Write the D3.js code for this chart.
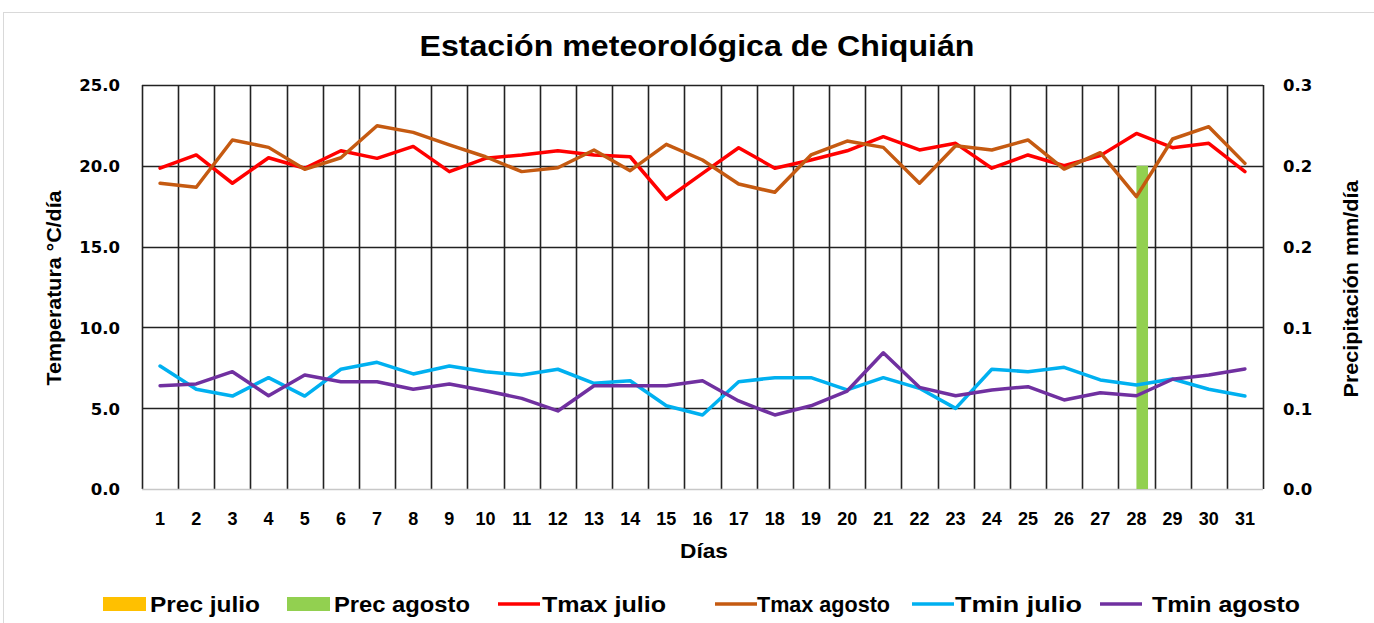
<!DOCTYPE html>
<html><head><meta charset="utf-8">
<script src="https://cdn.jsdelivr.net/npm/d3@7"></script>
<style>
html,body{margin:0;padding:0;background:#fff;}
svg{display:block;}
.lbl{font-family:"Liberation Sans",Arial,sans-serif;font-weight:bold;fill:#000;}
.tick{font-family:"DejaVu Sans",Verdana,sans-serif;font-weight:bold;fill:#000;}
</style></head>
<body>
<svg id="c" width="1374" height="623"></svg>
<script>
const days = d3.range(1, 32);
const tmaxJulio = [19.85,20.67,18.92,20.5,19.85,20.93,20.46,21.2,19.64,20.46,20.67,20.93,20.67,20.56,17.93,19.53,21.12,19.85,20.36,20.93,21.8,20.98,21.39,19.85,20.67,20.0,20.63,22.0,21.12,21.39,19.64];
const tmaxAgosto = [18.92,18.67,21.6,21.14,19.78,20.5,22.48,22.07,21.29,20.56,19.64,19.88,20.98,19.7,21.33,20.36,18.87,18.36,20.67,21.53,21.14,18.92,21.24,20.98,21.6,19.8,20.81,18.09,21.66,22.42,20.15];
const tminJulio = [7.61,6.17,5.75,6.89,5.75,7.41,7.84,7.12,7.61,7.26,7.05,7.41,6.54,6.7,5.15,4.58,6.64,6.89,6.89,6.13,6.89,6.23,4.99,7.41,7.26,7.53,6.75,6.44,6.81,6.17,5.75];
const tminAgosto = [6.39,6.5,7.26,5.77,7.05,6.64,6.64,6.17,6.5,6.08,5.61,4.83,6.39,6.39,6.39,6.7,5.45,4.58,5.15,6.06,8.43,6.29,5.77,6.13,6.33,5.51,5.96,5.77,6.79,7.05,7.43];
const precJulio = [0,0,0,0,0,0,0,0,0,0,0,0,0,0,0,0,0,0,0,0,0,0,0,0,0,0,0,0,0,0,0];
const precAgosto = [0,0,0,0,0,0,0,0,0,0,0,0,0,0,0,0,0,0,0,0,0,0,0,0,0,0,0,0.2,0,0,0];
const tempTicks = [0,5,10,15,20,25];
const precTicks = [0,0.05,0.1,0.15,0.2,0.25];
const title = "Estación meteorológica de Chiquián";
const yTitle = "Temperatura °C/día";
const y2Title = "Precipitación mm/día";
const xTitle = "Días";
const barSeries = [
  {name:"Prec julio", values:precJulio, color:"#FFC000"},
  {name:"Prec agosto", values:precAgosto, color:"#92D050"}
];
const lineSeries = [
  {name:"Tmax julio", values:tmaxJulio, color:"#FF0000"},
  {name:"Tmax agosto", values:tmaxAgosto, color:"#C55A11"},
  {name:"Tmin julio", values:tminJulio, color:"#00B0F0"},
  {name:"Tmin agosto", values:tminAgosto, color:"#7030A0"}
];

const svg = d3.select("#c");
const L = 142, R = 1263, T = 85, B = 489;

svg.append("rect").attr("x",3.5).attr("y",12.5).attr("width",1400).attr("height",700)
  .attr("fill","none").attr("stroke","#d9d9d9").attr("stroke-width",1);

const x = d3.scaleBand().domain(days).range([L,R]).padding(0);
const y = d3.scaleLinear().domain([0,25]).range([B,T]);
const y2 = d3.scaleLinear().domain([0,0.25]).range([B,T]);
const bw = x.bandwidth();
const fmt1 = d => (Math.round(d*10 + 1e-9)/10).toFixed(1);

svg.append("g").selectAll("line").data(tempTicks.filter(t=>t>0)).join("line")
  .attr("x1",L).attr("x2",R).attr("y1",d=>Math.round(y(d))+0.5).attr("y2",d=>Math.round(y(d))+0.5)
  .attr("stroke","#222").attr("stroke-width",1.6);
const bounds = days.map(d=>x(d)).concat([R]);
svg.append("g").selectAll("line").data(bounds).join("line")
  .attr("x1",d=>Math.round(d)+0.5).attr("x2",d=>Math.round(d)+0.5).attr("y1",T).attr("y2",B)
  .attr("stroke","#222").attr("stroke-width",1.6);
svg.append("line").attr("x1",L).attr("x2",R).attr("y1",B+0.5).attr("y2",B+0.5)
  .attr("stroke","#c8c8c8").attr("stroke-width",1.5);

const xs = d3.scaleBand().domain(barSeries.map(s=>s.name)).range([0,bw]).paddingInner(0).paddingOuter(0.56);
barSeries.forEach(s=>{
  svg.append("g").selectAll("rect").data(days).join("rect")
    .attr("x",(d)=>x(d)+xs(s.name)).attr("width",xs.bandwidth())
    .attr("y",(d,i)=>y2(s.values[i])).attr("height",(d,i)=>B-y2(s.values[i]))
    .attr("fill",s.color);
});

const line = d3.line().x((v,i)=>x(days[i])+bw/2).y(v=>y(v));
lineSeries.forEach(s=>{
  svg.append("path").datum(s.values).attr("d",line).attr("fill","none")
    .attr("stroke",s.color).attr("stroke-width",3.5).attr("stroke-linejoin","round").attr("stroke-linecap","round");
});

const yAxis = d3.axisLeft(y).tickValues(tempTicks).tickFormat(fmt1).tickSize(0).tickPadding(0);
const gy = svg.append("g").attr("transform",`translate(120,0)`).call(yAxis);
gy.select(".domain").remove();
gy.selectAll("text").attr("class","tick").attr("font-size",16.5).attr("dy","0.36em");
const y2Axis = d3.axisRight(y2).tickValues(precTicks).tickFormat(fmt1).tickSize(0).tickPadding(0);
const gy2 = svg.append("g").attr("transform",`translate(1283,0)`).call(y2Axis);
gy2.select(".domain").remove();
gy2.selectAll("text").attr("class","tick").attr("font-size",16.5).attr("dy","0.36em");
const xAxis = d3.axisBottom(x).tickSize(0).tickPadding(0);
const gx = svg.append("g").attr("transform",`translate(0,${B})`).call(xAxis);
gx.select(".domain").remove();
gx.selectAll("text").attr("class","lbl").attr("font-size",18).attr("y",36).attr("dy",0);

svg.append("text").attr("class","lbl").attr("x",697).attr("y",56).attr("text-anchor","middle")
  .attr("font-size",29).attr("textLength",555).attr("lengthAdjust","spacingAndGlyphs").text(title);
svg.append("text").attr("class","lbl").attr("x",704).attr("y",558).attr("text-anchor","middle")
  .attr("font-size",21).attr("textLength",48).attr("lengthAdjust","spacingAndGlyphs").text(xTitle);
svg.append("text").attr("class","lbl").attr("transform","translate(61,288) rotate(-90)").attr("text-anchor","middle")
  .attr("font-size",21).attr("textLength",195).attr("lengthAdjust","spacingAndGlyphs").text(yTitle);
svg.append("text").attr("class","lbl").attr("transform","translate(1358,289) rotate(-90)").attr("text-anchor","middle")
  .attr("font-size",21).attr("textLength",217).attr("lengthAdjust","spacingAndGlyphs").text(y2Title);

const legX = [103,287,498,715,912,1100];
const legTextX = [150,334,542,757,955,1152];
const legW = [110,136,124,133,127,148];
const legY = 604;
barSeries.forEach((s,i)=>{
  svg.append("rect").attr("x",legX[i]).attr("y",legY-7).attr("width",43).attr("height",14).attr("fill",s.color);
  svg.append("text").attr("class","lbl").attr("x",legTextX[i]).attr("y",legY+8).attr("font-size",22)
    .attr("textLength",legW[i]).attr("lengthAdjust","spacingAndGlyphs").text(s.name);
});
lineSeries.forEach((s,j)=>{
  const i = j+2;
  svg.append("line").attr("x1",legX[i]).attr("x2",legX[i]+42).attr("y1",legY).attr("y2",legY)
    .attr("stroke",s.color).attr("stroke-width",3.5);
  svg.append("text").attr("class","lbl").attr("x",legTextX[i]).attr("y",legY+8).attr("font-size",22)
    .attr("textLength",legW[i]).attr("lengthAdjust","spacingAndGlyphs").text(s.name);
});
</script>
</body></html>
